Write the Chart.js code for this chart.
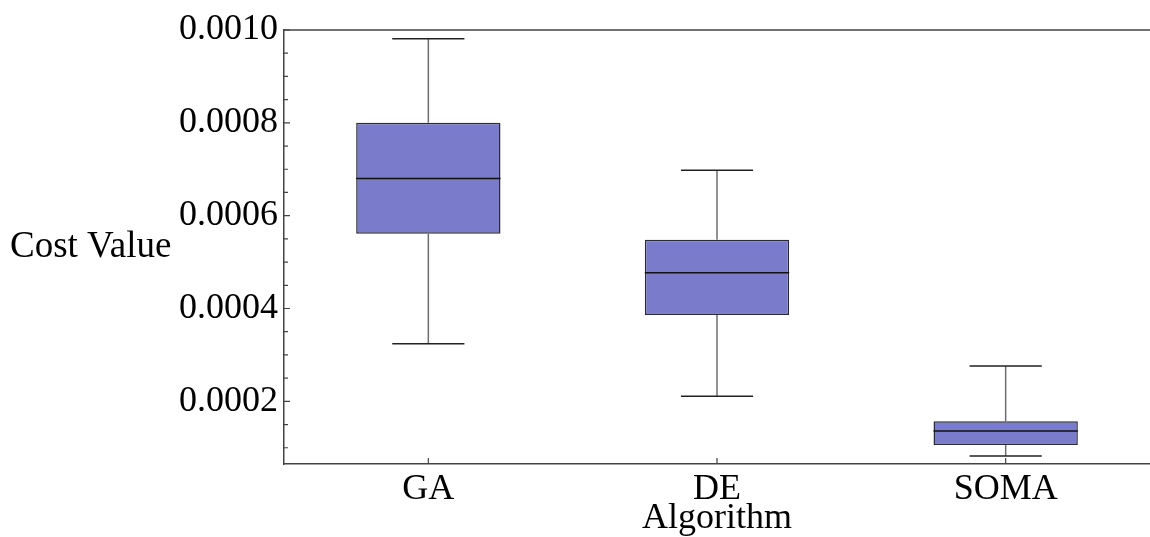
<!DOCTYPE html>
<html>
<head>
<meta charset="utf-8">
<script src="https://cdn.jsdelivr.net/npm/chart.js@4.4.1/dist/chart.umd.min.js"></script>
<style>
  body { margin: 0; background: #fff; }
</style>
</head>
<body>
<canvas id="mycanvas" width="1150" height="537"></canvas>
<script>
// box plot values
var algorithms = ["GA", "DE", "SOMA"];
var whiskerLow = [0.000324, 0.000211, 0.000082];
var quart1 = [0.000561, 0.000386, 0.000106];
var medians = [0.00068, 0.000477, 0.000136];
var quart3 = [0.0008, 0.000548, 0.000157];
var whiskerHigh = [0.000981, 0.000698, 0.000276];

var yMin = 0.000065;
var yMax = 0.001;
var majorStep = 0.0002;
var minorStep = 0.00005;

var serif = "'Liberation Serif', 'Times New Roman', serif";

var boxes = [];
for (var i in algorithms) {
	boxes.push([quart1[i], quart3[i]]);
}

var boxPlotExtras = {
	id: "boxPlotExtras",
	afterDatasetsDraw: function(chart) {
		var ctx = chart.ctx;
		var y = chart.scales.y;
		var x = chart.scales.x;
		var area = chart.chartArea;
		var meta = chart.getDatasetMeta(0);
		ctx.save();
		for (var i = 0; i < meta.data.length; i++) {
			var bar = meta.data[i];
			var cx = bar.x;
			var half = bar.width / 2;
			var capHalf = half / 2;
			// whiskers
			ctx.strokeStyle = "#6e6e6e";
			ctx.lineWidth = 1.5;
			ctx.beginPath();
			ctx.moveTo(cx, y.getPixelForValue(whiskerHigh[i]));
			ctx.lineTo(cx, y.getPixelForValue(quart3[i]));
			ctx.moveTo(cx, y.getPixelForValue(quart1[i]));
			ctx.lineTo(cx, y.getPixelForValue(whiskerLow[i]));
			ctx.stroke();
			ctx.strokeStyle = "#222";
			ctx.beginPath();
			ctx.moveTo(cx - capHalf, y.getPixelForValue(whiskerHigh[i]));
			ctx.lineTo(cx + capHalf, y.getPixelForValue(whiskerHigh[i]));
			ctx.moveTo(cx - capHalf, y.getPixelForValue(whiskerLow[i]));
			ctx.lineTo(cx + capHalf, y.getPixelForValue(whiskerLow[i]));
			ctx.stroke();
			// median
			ctx.strokeStyle = "#111";
			ctx.beginPath();
			ctx.moveTo(cx - half, y.getPixelForValue(medians[i]));
			ctx.lineTo(cx + half, y.getPixelForValue(medians[i]));
			ctx.stroke();
		}
		// frame top line
		ctx.strokeStyle = "#444";
		ctx.lineWidth = 1.5;
		ctx.beginPath();
		ctx.moveTo(area.left, area.top);
		ctx.lineTo(area.right, area.top);
		ctx.stroke();
		// inward ticks on y axis
		ctx.lineWidth = 1.2;
		ctx.beginPath();
		for (var k = 0; ; k++) {
			var v = Math.round((majorStep + (k - 2) * minorStep) * 1e6) / 1e6;
			if (v > yMax + 1e-9) break;
			if (v < yMin) continue;
			var py = y.getPixelForValue(v);
			var major = Math.abs(v / majorStep - Math.round(v / majorStep)) < 1e-6;
			ctx.moveTo(area.left, py);
			ctx.lineTo(area.left + (major ? 6 : 4), py);
		}
		// inward ticks on x axis
		for (var j = 0; j < algorithms.length; j++) {
			var px = x.getPixelForValue(j);
			ctx.moveTo(px, area.bottom);
			ctx.lineTo(px, area.bottom - 6);
		}
		ctx.stroke();
		// y axis title, written horizontally
		ctx.fillStyle = "#000";
		ctx.font = "37px " + serif;
		ctx.textAlign = "left";
		ctx.textBaseline = "middle";
		ctx.fillText("Cost Value", 10, (area.top + area.bottom) / 2);
		ctx.restore();
	}
};

var chartdata = {
	labels: algorithms,
	datasets: [
		{
			label: "Cost Value",
			data: boxes,
			backgroundColor: "rgb(123, 123, 204)",
			borderColor: "#2a2a3a",
			borderWidth: 1.5,
			borderSkipped: false,
			barPercentage: 0.5,
			categoryPercentage: 1
		}
	]
};

var ctx = document.getElementById("mycanvas");

var BoxChart = new Chart(ctx, {
	type: "bar",
	data: chartdata,
	plugins: [boxPlotExtras],
	options: {
		responsive: false,
		animation: false,
		layout: { padding: { top: 30, left: 0, right: 0, bottom: 0 } },
		plugins: {
			legend: { display: false },
			tooltip: { enabled: false }
		},
		scales: {
			x: {
				grid: { display: false, drawTicks: false },
				border: { display: true, color: "#444", width: 1.5 },
				ticks: {
					color: "#000",
					font: { family: serif, size: 36, lineHeight: 1 },
					padding: 8
				},
				title: {
					display: true,
					text: "Algorithm",
					color: "#000",
					font: { family: serif, size: 36, lineHeight: 1 },
					padding: 0
				},
				afterFit: function(scale) { scale.height = 73; }
			},
			y: {
				min: yMin,
				max: yMax,
				grid: { display: false, drawTicks: false },
				border: { display: true, color: "#444", width: 1.5 },
				ticks: {
					stepSize: majorStep,
					includeBounds: false,
					color: "#000",
					font: { family: serif, size: 36 },
					padding: 6,
					callback: function(v) { return v.toFixed(4); }
				},
				afterFit: function(scale) { scale.width = 284; }
			}
		}
	}
});
</script>
</body>
</html>
